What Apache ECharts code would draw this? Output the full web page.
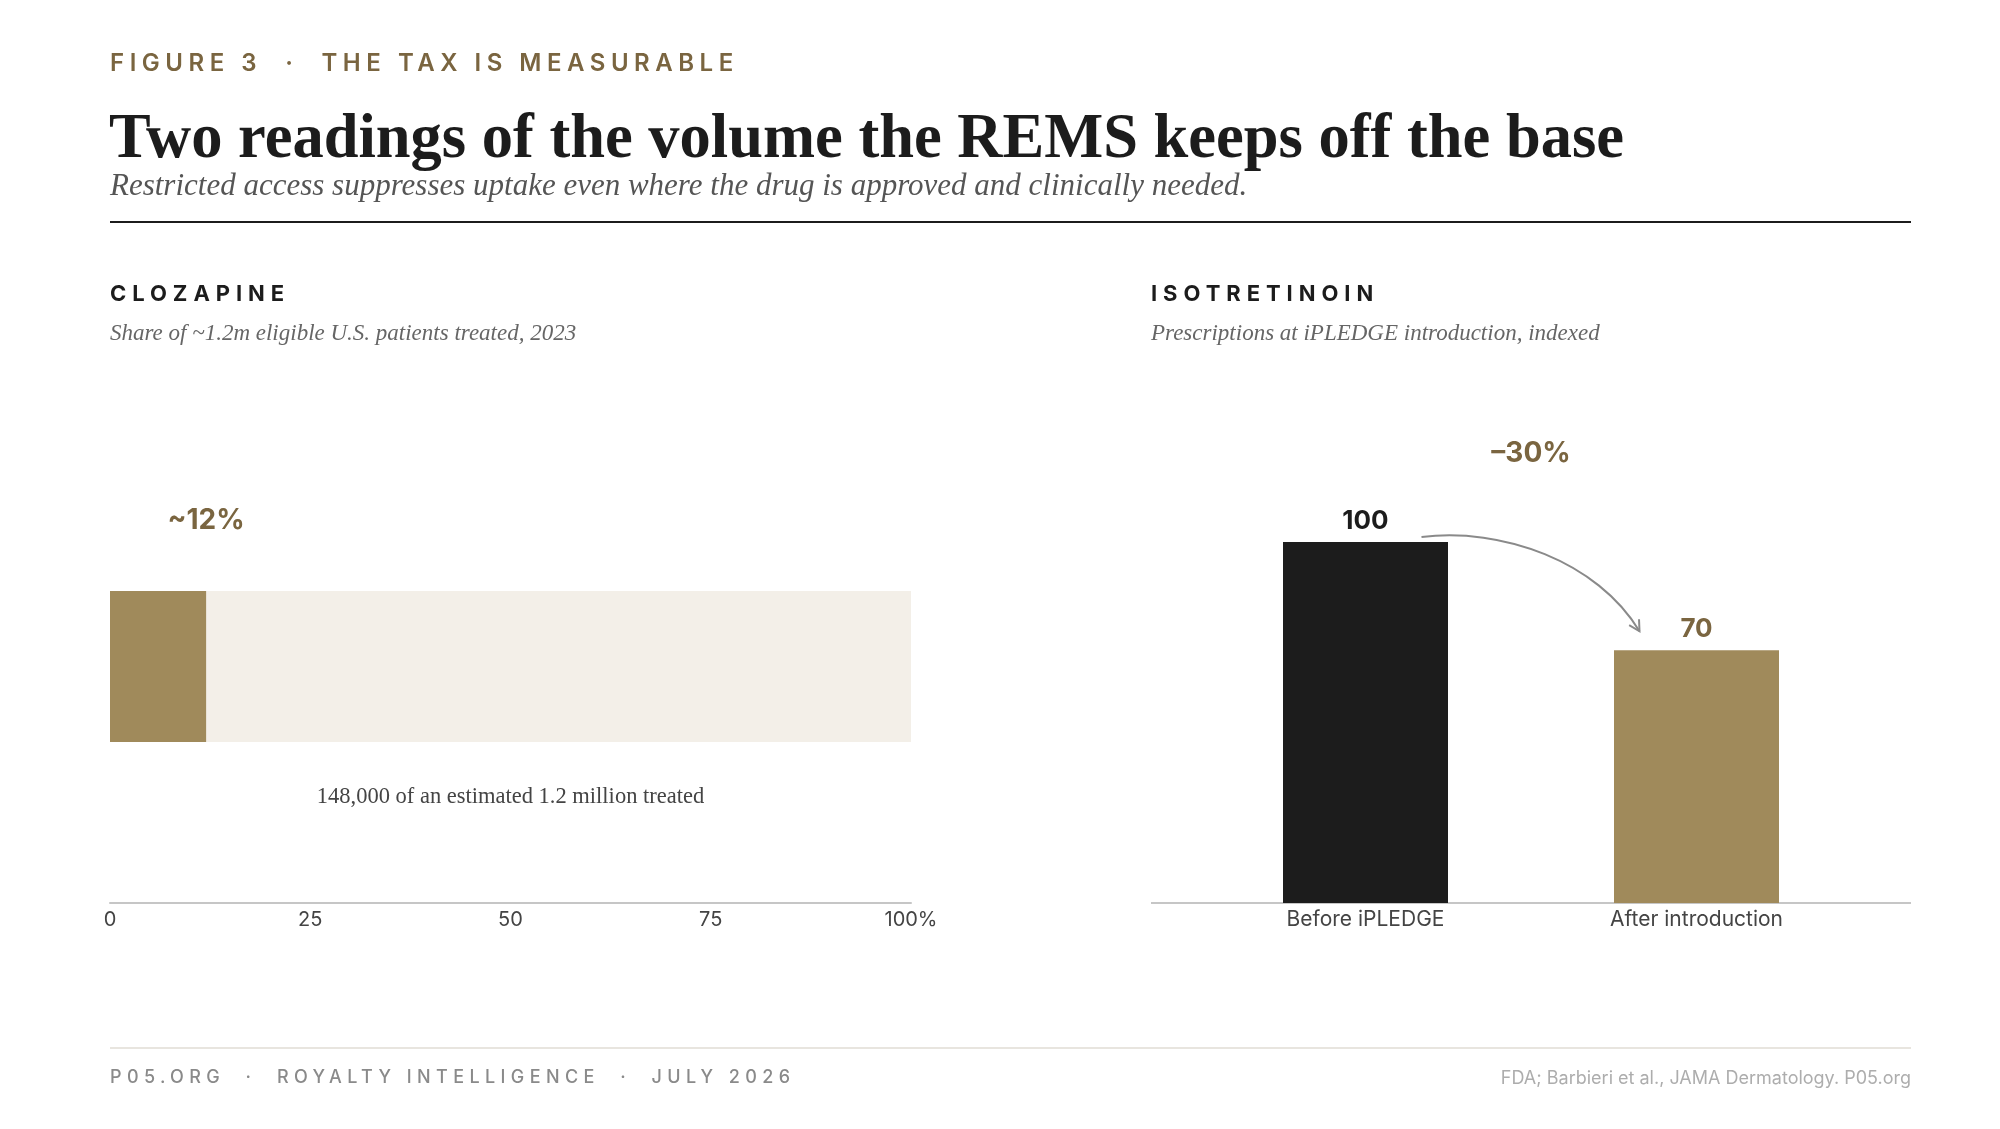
<!DOCTYPE html>
<html>
<head>
<meta charset="utf-8">
<title>Figure 3 · The tax is measurable</title>
<script src="https://cdn.jsdelivr.net/npm/echarts/dist/echarts.min.js"></script>
<style>
  html, body { margin: 0; padding: 0; background: #ffffff; }
  #page { position: relative; width: 2000px; height: 1129px; overflow: hidden; }
  #chart { position: absolute; left: 0; top: 0; width: 2000px; height: 1129px; }
  .t { position: absolute; white-space: nowrap; line-height: 1; z-index: 2; }
  .kicker { left: 110px; top: 48px; font: 600 24px Inter, sans-serif; letter-spacing: 0.23em; color: #7a6540; }
  .title { left: 109px; top: 100px; font: 700 62.5px "Liberation Serif", serif; color: #1c1c1c; }
  .sub { left: 110px; top: 167px; font: italic 400 31px "Liberation Serif", serif; color: #555; }
  .rule { position: absolute; left: 110px; top: 221px; width: 1801px; height: 2px; background: #1c1c1c; }
  .sec { top: 280px; font: 700 22px Inter, sans-serif; letter-spacing: 0.27em; color: #1c1c1c; }
  .secsub { top: 320px; font: italic 400 23px "Liberation Serif", serif; color: #666; }
  .frule { position: absolute; left: 110px; top: 1047px; width: 1801px; height: 2px; background: #e8e5df; }
  .foot { left: 110px; top: 1066px; font: 500 18px Inter, sans-serif; letter-spacing: 0.3em; color: #8a8a8a; }
  .src { right: 89px; top: 1067px; font: 400 18px Inter, sans-serif; color: #adadad; }
</style>
</head>
<body>
<div id="page">
  <div class="t kicker">FIGURE 3 &nbsp;·&nbsp; THE TAX IS MEASURABLE</div>
  <div class="t title">Two readings of the volume the REMS keeps off the base</div>
  <div class="t sub">Restricted access suppresses uptake even where the drug is approved and clinically needed.</div>
  <div class="rule"></div>

  <div class="t sec" style="left:110px">CLOZAPINE</div>
  <div class="t secsub" style="left:110px">Share of ~1.2m eligible U.S. patients treated, 2023</div>
  <div class="t sec" style="left:1151px">ISOTRETINOIN</div>
  <div class="t secsub" style="left:1151px">Prescriptions at iPLEDGE introduction, indexed</div>

  <div id="chart"></div>

  <div class="frule"></div>
  <div class="t foot">P05.ORG &nbsp;·&nbsp; ROYALTY INTELLIGENCE &nbsp;·&nbsp; JULY 2026</div>
  <div class="t src">FDA; Barbieri et al., JAMA Dermatology. P05.org</div>
</div>

<script>
// clozapine panel
var clozapineCategory = ['Clozapine'];
var clozapineShare = [12];
var shareTicks = ['0', '25', '50', '75', '100%'];
var clozapineNote = '148,000 of an estimated 1.2 million treated';

// isotretinoin panel
var isoCategories = ['Before iPLEDGE', 'After introduction'];
var isoIndex = [100, 70];
var isoChange = '–30%';

var GOLD = '#a08a5b';
var GOLD_TEXT = '#7a6540';
var INK = '#1c1c1c';
var SANS = 'Inter, sans-serif';

var myChart = echarts.init(document.getElementById('chart'));

var option = {
    animation: false,
    grid: [
        { left: 110, right: 1089, top: 430, bottom: 226 },
        { left: 1200, right: 138, top: 542, bottom: 226 }
    ],
    xAxis: [{
        gridIndex: 0,
        type: 'value',
        min: 0,
        max: 100,
        interval: 25,
        axisLine: { show: true, lineStyle: { color: '#c6c6c6', width: 2 } },
        axisTick: { show: false },
        splitLine: { show: false },
        axisLabel: {
            color: '#444', fontFamily: SANS, fontSize: 20, margin: 7,
            formatter: function (v) { return shareTicks[Math.round(v / 25)]; }
        }
    }, {
        gridIndex: 1,
        type: 'category',
        data: isoCategories,
        axisLine: { show: false },
        axisTick: { show: false },
        axisLabel: { color: '#444', fontFamily: SANS, fontSize: 21, margin: 6 }
    }],
    yAxis: [{
        gridIndex: 0,
        type: 'category',
        data: clozapineCategory,
        show: false
    }, {
        gridIndex: 1,
        type: 'value',
        min: 0,
        max: 100,
        show: false
    }],
    series: [{
        type: 'bar',
        xAxisIndex: 0,
        yAxisIndex: 0,
        data: clozapineShare,
        barWidth: 151,
        itemStyle: { color: GOLD },
        showBackground: true,
        backgroundStyle: { color: '#f3efe8' },
        label: {
            show: true,
            position: ['100%', -70],
            align: 'center',
            verticalAlign: 'middle',
            formatter: function (p) { return '~' + p.value + '%'; },
            color: GOLD_TEXT,
            fontFamily: SANS,
            fontWeight: 700,
            fontSize: 28
        }
    }, {
        type: 'bar',
        xAxisIndex: 1,
        yAxisIndex: 1,
        barWidth: 165,
        data: isoIndex.map(function (v, i) {
            return {
                value: v,
                itemStyle: { color: i === 0 ? INK : GOLD },
                label: { color: i === 0 ? INK : GOLD_TEXT }
            };
        }),
        label: {
            show: true,
            position: 'top',
            distance: 8,
            fontFamily: SANS,
            fontWeight: 700,
            fontSize: 26
        }
    }]
};

myChart.setOption(option, true);

// annotations placed from the axes
var noteAt = myChart.convertToPixel({ xAxisIndex: 0, yAxisIndex: 0 }, [50, 0]);
var top0 = myChart.convertToPixel({ xAxisIndex: 1, yAxisIndex: 1 }, [0, isoIndex[0]]);
var top1 = myChart.convertToPixel({ xAxisIndex: 1, yAxisIndex: 1 }, [1, isoIndex[1]]);
var baseY = myChart.convertToPixel({ yAxisIndex: 1 }, 0);

var sx = top0[0] + 56, sy = top0[1] - 5;
var ex = top1[0] - 57, ey = top1[1] - 19;
var c1x = sx + 80, c1y = sy - 10;
var c2x = ex - 42, c2y = ey - 70;
// arrowhead follows the end tangent
var ang = Math.atan2(ey - c2y, ex - c2x);
var ah = 12;
var head = [
    [ex - ah * Math.cos(ang - 0.5), ey - ah * Math.sin(ang - 0.5)],
    [ex, ey],
    [ex - ah * Math.cos(ang + 0.5), ey - ah * Math.sin(ang + 0.5)]
];

myChart.setOption({
    graphic: [{
        type: 'text',
        x: noteAt[0],
        y: noteAt[1] + 131,
        style: {
            text: clozapineNote,
            fill: '#444',
            font: '400 22.5px "Liberation Serif", serif',
            textAlign: 'center',
            textVerticalAlign: 'middle'
        }
    }, {
        type: 'line',
        shape: { x1: 1151, y1: baseY, x2: 1911, y2: baseY },
        style: { stroke: '#c6c6c6', lineWidth: 2 }
    }, {
        type: 'text',
        x: (top0[0] + top1[0]) / 2,
        y: top0[1] - 88,
        style: {
            text: isoChange,
            fill: GOLD_TEXT,
            font: '700 28px Inter, sans-serif',
            textAlign: 'center',
            textVerticalAlign: 'middle'
        }
    }, {
        type: 'bezierCurve',
        shape: { x1: sx, y1: sy, cpx1: c1x, cpy1: c1y, cpx2: c2x, cpy2: c2y, x2: ex, y2: ey },
        style: { stroke: '#8a8a8a', lineWidth: 2, fill: null }
    }, {
        type: 'polyline',
        shape: { points: head },
        style: { stroke: '#8a8a8a', lineWidth: 2, fill: null }
    }]
});
</script>
</body>
</html>
